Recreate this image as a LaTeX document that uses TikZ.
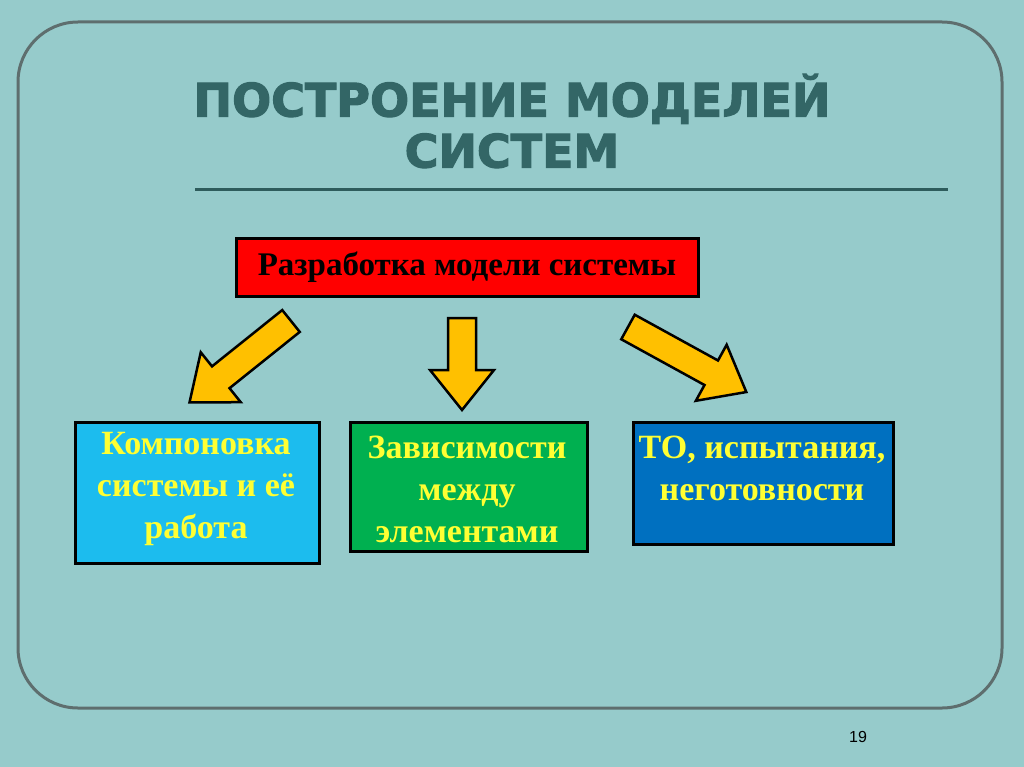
\documentclass[tikz,border=0pt]{standalone}
\usepackage{fontspec}
\setmainfont{Liberation Serif}
\newfontfamily\titlefont[BoldFeatures={FakeBold=2.5}]{DejaVu Sans}
\newfontfamily\numfont{Liberation Sans}
\definecolor{bg}{HTML}{96CBCB}
\definecolor{frame}{HTML}{5E6E6E}
\definecolor{ttl}{HTML}{336666}
\definecolor{yel}{HTML}{FFC000}
\definecolor{txty}{HTML}{FFFF33}
\definecolor{cy}{HTML}{1CBCEE}
\definecolor{gr}{HTML}{00B050}
\definecolor{bl}{HTML}{0070C0}
\tikzset{
  box/.style={draw=black, line width=3pt, anchor=north west, inner sep=0pt},
  btext/.style={text=txty, align=center, font=\bfseries\fontsize{34}{42}\selectfont, inner sep=0pt},
  barrow/.style={fill=yel, draw=black, line width=2.5pt, line join=miter}
}
\newcommand\blockarrow[4]{% x, y, angle, length
  \begin{scope}[shift={(#1,#2)}, rotate=#3]
    \draw[barrow] (0,-14) -- ({#4-40},-14) -- ({#4-40},-32) -- (#4,0) -- ({#4-40},32) -- ({#4-40},14) -- (0,14) -- cycle;
  \end{scope}}
\begin{document}
\begin{tikzpicture}[x=1pt,y=-1pt]
\fill[bg] (0,0) rectangle (1024,767);
\useasboundingbox (0,0) rectangle (1024,767);
\draw[frame, line width=3pt, rounded corners=60pt] (18,22) rectangle (1002,708);
\node[text=ttl, font=\titlefont\bfseries\fontsize{46}{51}\selectfont, align=center] (title) at (512,121) {ПОСТРОЕНИЕ МОДЕЛЕЙ\\СИСТЕМ};
\draw[ttl!90!black, line width=3pt] (195,190) -- (948,190);
\node[draw=black, line width=3pt, fill=red, minimum width=462pt, minimum height=58pt, inner sep=0pt, font=\bfseries\fontsize{33}{36}\selectfont] (top) at (467,267) {Разработка модели системы};
\node[box, fill=cy, minimum width=244pt, minimum height=141pt] (b1) at (74,421) {};
\node[btext] (b1t) at (196,489) {Компоновка\\системы и её\\работа};
\node[box, fill=gr, minimum width=237pt, minimum height=129pt] (b2) at (349,421) {};
\node[btext] (b2t) at (467,489) {Зависимости\\между\\элементами};
\node[box, fill=bl, minimum width=260pt, minimum height=122pt] (b3) at (632,421) {};
\node[btext] (b3t) at (762,468) {ТО, испытания,\\неготовности};
\blockarrow{291}{321}{-141.3}{130}
\blockarrow{462}{318}{-90}{92}
\blockarrow{628}{327}{-28.8}{135}
\node[font=\numfont\fontsize{16}{18}\selectfont, text=black] (num) at (858,737) {19};
\end{tikzpicture}
\end{document}
